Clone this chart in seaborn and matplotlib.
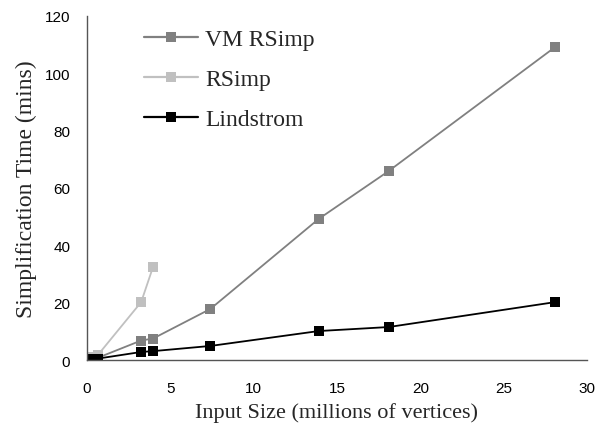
import matplotlib
matplotlib.use("Agg")
import matplotlib.pyplot as plt
import seaborn as sns
import pandas as pd

series_names = ["VM RSimp", "RSimp", "Lindstrom"]
x_vmrsimp = [0.36, 0.66, 3.25, 3.97, 7.4, 13.9, 18.1, 28.1]
y_vmrsimp = [0.5, 0.8, 6.8, 7.5, 17.8, 49.2, 65.9, 109.2]
x_rsimp = [0.36, 0.66, 3.25, 3.97]
y_rsimp = [1.0, 1.8, 20.2, 32.6]
x_lindstrom = [0.36, 0.66, 3.25, 3.97, 7.4, 13.9, 18.1, 28.1]
y_lindstrom = [0.3, 0.5, 2.8, 3.1, 4.9, 10.1, 11.5, 20.2]
x_ticks = [0, 5, 10, 15, 20, 25, 30]
y_ticks = [0, 20, 40, 60, 80, 100, 120]

df = pd.concat([
    pd.DataFrame({"x": x_vmrsimp, "y": y_vmrsimp, "s": series_names[0]}),
    pd.DataFrame({"x": x_rsimp, "y": y_rsimp, "s": series_names[1]}),
    pd.DataFrame({"x": x_lindstrom, "y": y_lindstrom, "s": series_names[2]}),
], ignore_index=True)

sns.set_style("white")
plt.rcParams['font.family'] = ['Liberation Sans', 'DejaVu Sans']

fig = plt.figure(figsize=(5.98, 4.31), dpi=100)
ax = fig.add_axes([0.1455, 0.1624, 0.836, 0.7982])

palette = {"VM RSimp": "#808080", "RSimp": "#C0C0C0", "Lindstrom": "#000000"}
sns.lineplot(data=df, x="x", y="y", hue="s", hue_order=series_names,
             palette=palette, marker="s", markersize=7.8, markeredgewidth=0,
             linewidth=1.3, estimator=None, sort=False, ax=ax)

ax.set_xlim(0, 30)
ax.set_ylim(0, 120)
ax.set_xticks(x_ticks)
ax.set_yticks(y_ticks)
ax.set_xticklabels([str(t) for t in x_ticks], fontsize=11)
ax.set_yticklabels([str(t) for t in y_ticks], fontsize=11)
for sp in ["top", "right"]:
    ax.spines[sp].set_visible(False)
for sp in ["left", "bottom"]:
    ax.spines[sp].set_color("#555555")
    ax.spines[sp].set_linewidth(1.0)
ax.tick_params(axis="both", direction="out", length=5, width=1.0, color="#555555",
               labelcolor="black")
ax.tick_params(axis="x", pad=10)
ax.tick_params(axis="y", pad=7)
ax.grid(False)

ax.set_xlabel("Input Size (millions of vertices)", family="Liberation Serif", fontsize=16, labelpad=5)
ax.set_ylabel("Simplification Time (mins)", family="Liberation Serif", fontsize=17, labelpad=6)

leg = ax.legend(frameon=False, loc="upper left", bbox_to_anchor=(0.095, 0.99),
                prop={"family": "Liberation Serif", "size": 17},
                handlelength=2.3, labelspacing=0.78, handletextpad=0.3,
                borderaxespad=0.0)
for h in leg.legend_handles:
    h.set_markeredgewidth(0)
    h.set_markersize(7.8)
    h.set_linewidth(1.6)

fig.savefig("out.png", dpi=100)
